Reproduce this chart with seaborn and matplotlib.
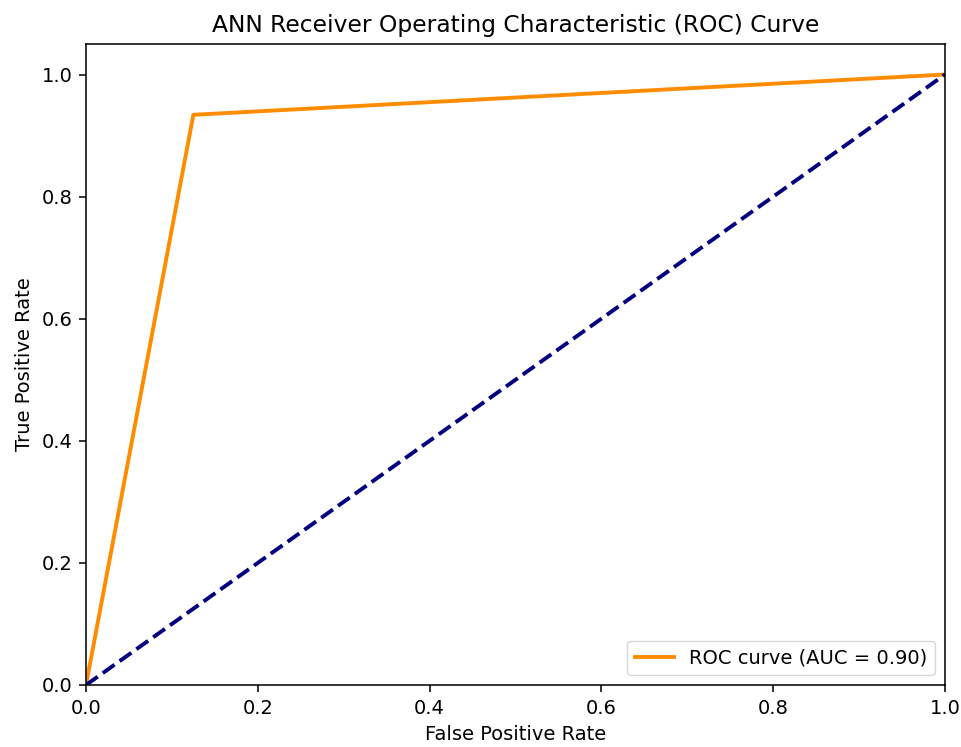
import matplotlib
matplotlib.use("Agg")
import matplotlib.pyplot as plt
import seaborn as sns
import pandas as pd

fpr = [0.0, 0.125, 1.0]
tpr = [0.0, 0.934, 1.0]
diag_x = [0.0, 1.0]
diag_y = [0.0, 1.0]
auc_label = "ROC curve (AUC = 0.90)"

s = 1.4
fig = plt.figure(figsize=(9.62, 7.47), dpi=100)
ax = fig.add_axes([86/962, 1-685/747, (945-86)/962, (685-44)/747])

roc = pd.DataFrame({"fpr": fpr, "tpr": tpr})
sns.lineplot(data=roc, x="fpr", y="tpr", sort=False, color="darkorange", lw=2*s,
             label=auc_label, ax=ax)
sns.lineplot(x=diag_x, y=diag_y, color="navy", lw=2*s, linestyle="--", ax=ax)

ax.set_xlim(0.0, 1.0)
ax.set_ylim(0.0, 1.05)
ax.set_xlabel("False Positive Rate", fontsize=10*s, labelpad=4*s)
ax.set_ylabel("True Positive Rate", fontsize=10*s, labelpad=4*s)
ax.set_title("ANN Receiver Operating Characteristic (ROC) Curve", fontsize=12*s, pad=6*s)
ax.tick_params(labelsize=10*s, length=3.5*s, width=0.8*s, pad=3.5*s)
for sp in ax.spines.values():
    sp.set_linewidth(0.8*s)
ax.legend(loc="lower right", fontsize=10*s)

fig.savefig("out.png", dpi=100)
